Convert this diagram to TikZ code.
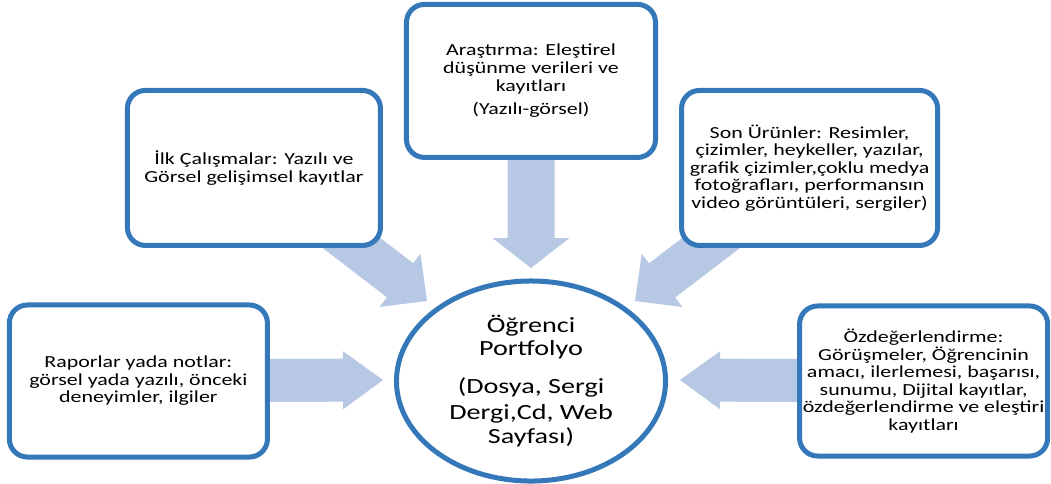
\documentclass[tikz,border=0pt]{standalone}
\usepackage{fontspec}
\setmainfont{Carlito}[FakeStretch=1.3]
\usetikzlibrary{shapes.geometric,positioning,calc,backgrounds}
\definecolor{boxblue}{RGB}{52,120,185}
\definecolor{arrowblue}{RGB}{182,200,228}

% block arrow: from node, tip coordinate, shaft half width, head half width, head length
\newcommand{\blockarrow}[5]{%
  \coordinate (#2-b) at ($(#2)!#5!(#1.center)$);
  \fill[arrowblue] ($(#1.center)!#3!90:(#2)$) -- ($(#2-b)!#3!90:(#2)$) -- ($(#2-b)!#4!90:(#2)$) -- (#2)
    -- ($(#2-b)!#4!-90:(#2)$) -- ($(#2-b)!#3!-90:(#2)$) -- ($(#1.center)!#3!-90:(#2)$) -- cycle;
}

\begin{document}
\begin{tikzpicture}[x=0.025cm,y=-0.025cm,node distance=2cm,on grid,
   box/.style={draw=boxblue,line width=0.125cm,rounded corners=0.45cm,fill=white,
     align=center,inner sep=0pt,font=\fontsize{12}{12.5}\selectfont},
   hub/.style={ellipse,draw=boxblue,line width=0.125cm,fill=white,align=center,inner sep=0pt,
     minimum width=6.725cm,minimum height=5cm,font=\fontsize{15.4}{17}\selectfont}]
   \useasboundingbox (0,0) rectangle (1051,483);
   \node[hub] (ogr) at (531,381) {Öğrenci\\Portfolyo\\[10pt](Dosya, Sergi\\[1.5pt]Dergi,Cd, Web\\Sayfası)};
   \node[box,minimum width=6.225cm,minimum height=3.825cm] (arastirma) [above=7.5cm of ogr]
      {Araştırma: Eleştirel\\düşünme verileri ve\\kayıtları\\[4.3pt](Yazılı-görsel)};
   \node[box,minimum width=6.325cm,minimum height=3.875cm] (ilk) [above left=5.325cm and 6.925cm of ogr]
      {İlk Çalışmalar: Yazılı ve\\Görsel gelişimsel kayıtlar};
   \node[box,minimum width=6.4cm,minimum height=3.875cm] (son) [above right=5.325cm and 6.9625cm of ogr]
      {Son Ürünler: Resimler,\\çizimler, heykeller, yazılar,\\grafik çizimler,çoklu medya\\fotoğrafları, performansın\\video görüntüleri, sergiler)};
   \node[box,minimum width=6.45cm,minimum height=3.8cm] (rapor) [left=9.8125cm of ogr]
      {Raporlar yada notlar:\\görsel yada yazılı, önceki\\deneyimler, ilgiler};
   \node[box,minimum width=6.2cm,minimum height=3.75cm] (ozde) [right=9.8125cm of ogr]
      {Özdeğerlendirme:\\Görüşmeler, Öğrencinin\\amacı, ilerlemesi, başarısı,\\sunumu, Dijital kayıtlar,\\özdeğerlendirme ve eleştiri\\kayıtları};
   \coordinate (tipT) at (531,268);
   \coordinate (tipL) at (427,301);
   \coordinate (tipR) at (635,301);
   \coordinate (tipW) at (383,380);
   \coordinate (tipE) at (680,380);
   \begin{pgfonlayer}{background}
     \blockarrow{arastirma}{tipT}{0.5875cm}{0.9625cm}{0.75cm}
     \blockarrow{ilk}{tipL}{0.5375cm}{0.8375cm}{0.85cm}
     \blockarrow{son}{tipR}{0.5375cm}{0.8375cm}{0.85cm}
     \blockarrow{rapor}{tipW}{0.5375cm}{0.725cm}{1cm}
     \blockarrow{ozde}{tipE}{0.5375cm}{0.725cm}{1cm}
   \end{pgfonlayer}
\end{tikzpicture}
\end{document}
